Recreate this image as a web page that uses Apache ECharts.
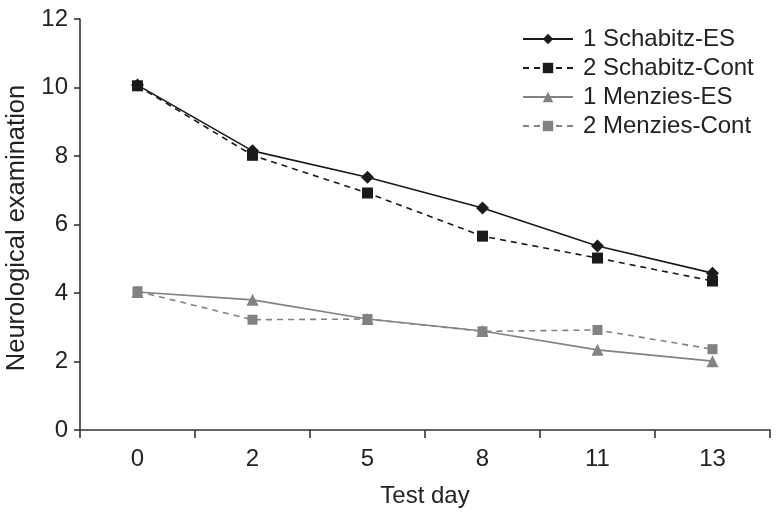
<!DOCTYPE html>
<html><head><meta charset="utf-8">
<script src="https://cdn.jsdelivr.net/npm/echarts@6/dist/echarts.min.js"></script>
<style>html,body{margin:0;padding:0;background:#fff}#c{width:776px;height:518px}</style>
</head><body><div id="c"></div>
<script>
const categories = ['0', '2', '5', '8', '11', '13'];
const schabitzES = [10.07, 8.15, 7.38, 6.48, 5.37, 4.58];
const schabitzCont = [10.05, 8.02, 6.92, 5.66, 5.02, 4.35];
const menziesES = [4.03, 3.8, 3.24, 2.89, 2.34, 2.01];
const menziesCont = [4.05, 3.22, 3.24, 2.88, 2.92, 2.36];
const yTicks = [0, 2, 4, 6, 8, 10, 12];

const font = 'Liberation Sans, Arial, sans-serif';
const black = '#1a1a1a', gray = '#828282', txt = '#222';
const chart = echarts.init(document.getElementById('c'));
function s(name, data, color, symbol, dashed, size) {
  return {
    name, type: 'line', data, symbol, symbolSize: size,
    itemStyle: { color },
    lineStyle: { color, width: 1.6, type: dashed ? [6, 5] : 'solid' },
    animation: false
  };
}
chart.setOption({
  animation: false,
  grid: { left: 80, right: 6, top: 19, bottom: 88, containLabel: false, outerBoundsMode: 'none' },
  legend: {
    orient: 'vertical', left: 522, top: 27, padding: 0,
    itemWidth: 50, itemHeight: 13, itemGap: 5,
    textStyle: { fontFamily: font, fontSize: 24, color: txt, padding: [0, 0, 0, 5] },
    data: ['1 Schabitz-ES', '2 Schabitz-Cont', '1 Menzies-ES', '2 Menzies-Cont']
  },
  xAxis: {
    type: 'category', data: categories, boundaryGap: true,
    name: 'Test day', nameLocation: 'middle', nameGap: 54,
    nameTextStyle: { fontFamily: font, fontSize: 24, color: txt },
    axisLine: { lineStyle: { color: '#333', width: 1.6 } },
    axisTick: { show: true, interval: 0, alignWithLabel: false, length: 8, lineStyle: { color: '#333', width: 1.6 } },
    axisLabel: { fontFamily: font, fontSize: 24, color: txt, margin: 17, interval: 0 }
  },
  yAxis: {
    type: 'value', min: 0, max: 12, interval: 2,
    name: 'Neurological examination', nameLocation: 'middle', nameGap: 46,
    nameTextStyle: { fontFamily: font, fontSize: 25.5, color: txt, padding: [0, 7, 0, 0] },
    splitLine: { show: false },
    axisLine: { show: true, lineStyle: { color: '#333', width: 1.6 } },
    axisTick: { show: true, length: 6, lineStyle: { color: '#333', width: 1.6 } },
    axisLabel: { fontFamily: font, fontSize: 24, color: txt, margin: 12,
      formatter: v => yTicks.includes(v) ? String(v) : '' }
  },
  series: [
    s('1 Schabitz-ES', schabitzES, black, 'diamond', false, 13),
    s('2 Schabitz-Cont', schabitzCont, black, 'rect', true, 11),
    s('1 Menzies-ES', menziesES, gray, 'triangle', false, 12),
    s('2 Menzies-Cont', menziesCont, gray, 'rect', true, 10)
  ]
});
</script></body></html>
